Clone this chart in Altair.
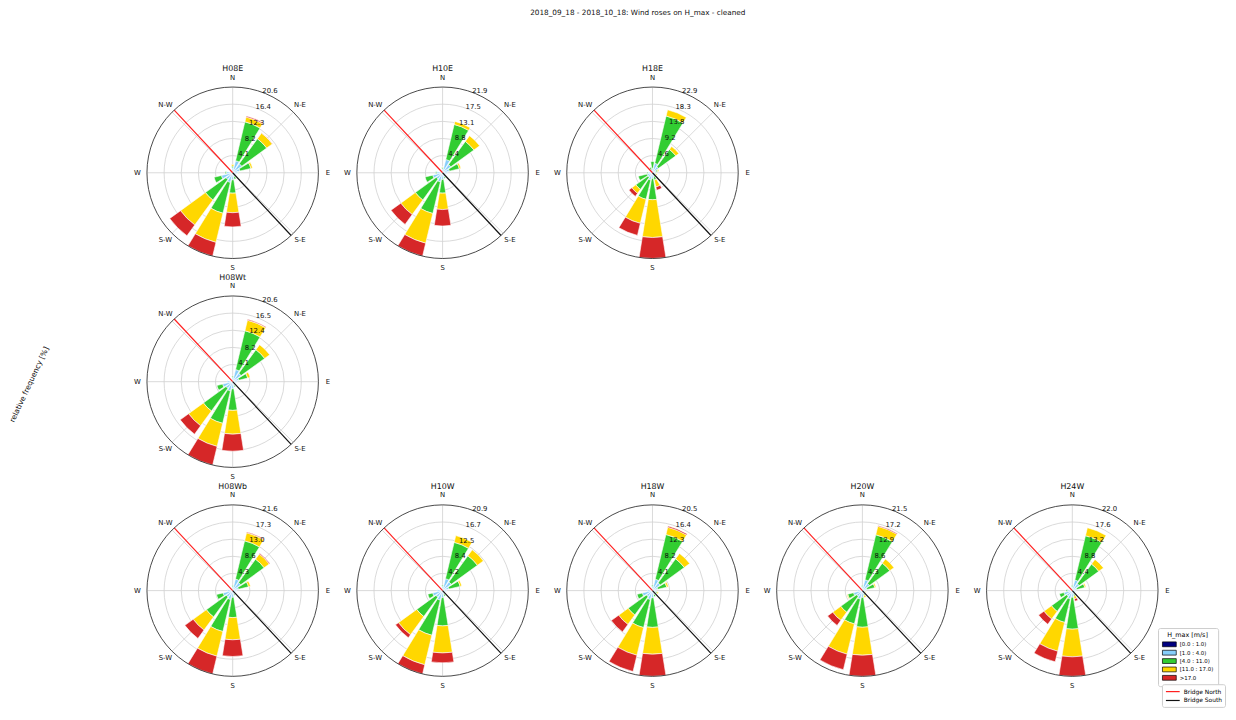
import math
import altair as alt
import pandas as pd

# ---------------- data ----------------
SECTORS = ["N", "NNE", "NE", "ENE", "E", "ESE", "SE", "SSE",
           "S", "SSW", "SW", "WSW", "W", "WNW", "NW", "NNW"]
SECTOR_DEG = [0, 22.5, 45, 67.5, 90, 112.5, 135, 157.5,
              180, 202.5, 225, 247.5, 270, 292.5, 315, 337.5]
BIN_LABELS = ["[0.0 : 1.0)", "[1.0 : 4.0)", "[4.0 : 11.0)", "[11.0 : 17.0)", ">17.0"]
BIN_COLORS = ["#000080", "#87cefa", "#32cd32", "#ffd700", "#d62728"]

COMPASS_LABELS = ["N", "N-E", "E", "S-E", "S", "S-W", "W", "N-W"]
COMPASS_DEG = [0, 45, 90, 135, 180, 225, 270, 315]
RING_FRACTIONS = [0.2, 0.4, 0.6, 0.8]

BRIDGE_NAMES = ["Bridge North", "Bridge South"]
BRIDGE_DEG = [317, 137]
BRIDGE_COLORS = ["#ff2020", "#111111"]

# relative frequency [%] per sector (N ... NNW), bins: navy, lightblue, green, gold, red
H08E = [(0, 1.2, 0.4, 0.4, 0), (0, 3.0, 9.6, 1.2, 0.25), (0, 2.7, 7.4, 1.7, 0.05), (0, 1.8, 2.7, 0.4, 0),
        (0, 1.3, 0.1, 0, 0), (0, 0.8, 0, 0, 0), (0, 0.5, 0, 0, 0), (0, 1.0, 0.6, 0, 0),
        (0, 1.7, 3.2, 4.7, 3.4), (0, 2.4, 7.6, 7.2, 3.4), (0, 2.0, 6.1, 7.4, 3.2), (0, 2.8, 1.8, 0, 0),
        (0, 1.5, 0.3, 0, 0), (0, 0.6, 0, 0, 0), (0, 0.3, 0, 0, 0), (0, 0.6, 0, 0, 0)]
H10E = [(0, 1.0, 0.4, 0.1, 0), (0, 3.5, 9.2, 0.8, 0), (0, 2.6, 7.3, 1.8, 0), (0, 1.8, 2.6, 0.4, 0),
        (0, 1.2, 0, 0, 0), (0, 0.8, 0, 0, 0), (0, 0.5, 0, 0, 0), (0, 1.2, 0.3, 0, 0),
        (0, 1.7, 3.5, 4.2, 4.2), (0, 2.4, 8.3, 7.8, 3.4), (0, 2.0, 6.6, 4.6, 3.1), (0, 2.6, 2.0, 0, 0),
        (0, 1.5, 0.3, 0, 0), (0, 0.6, 0, 0, 0), (0, 0.3, 0, 0, 0), (0, 0.6, 0, 0, 0)]
H18E = [(0, 1.2, 1.8, 0, 0), (0, 2.6, 13.0, 1.7, 0), (0, 2.0, 5.7, 1.0, 0), (0, 1.0, 0.5, 0.3, 0),
        (0, 0.8, 0.2, 0, 0), (0, 0.8, 0.2, 0.3, 0), (0, 0.5, 0, 0, 0), (0, 1.0, 1.0, 1.9, 0.9),
        (0, 1.5, 5.7, 10.1, 5.6), (0, 2.0, 5.3, 6.6, 3.3), (0, 1.5, 4.0, 1.3, 1.0), (0, 1.5, 2.4, 0, 0),
        (0, 1.2, 0.3, 0, 0), (0, 0.6, 0, 0, 0), (0, 0.3, 0, 0, 0), (0, 0.8, 0.7, 0, 0)]
H08Wt = [(0, 1.0, 0.3, 0, 0), (0, 3.0, 9.6, 2.6, 0.2), (0, 2.5, 7.0, 1.5, 0), (0, 1.5, 2.2, 0.6, 0),
         (0, 1.0, 0, 0, 0), (0, 0.7, 0, 0, 0), (0, 0.5, 0, 0, 0), (0, 1.0, 0.3, 0, 0),
         (0, 1.7, 5.2, 5.7, 4.1), (0, 2.3, 8.0, 5.7, 4.6), (0, 2.0, 6.7, 4.4, 2.5), (0, 2.5, 1.4, 0, 0),
         (0, 1.3, 0, 0, 0), (0, 0.6, 0, 0, 0), (0, 0.3, 0, 0, 0), (0, 0.6, 0, 0, 0)]
H08Wb = [(0, 1.0, 0.3, 0, 0), (0, 3.0, 9.9, 2.1, 0.2), (0, 2.5, 7.3, 1.6, 0.2), (0, 1.5, 2.6, 0.5, 0),
         (0, 1.0, 0, 0, 0), (0, 0.7, 0, 0, 0), (0, 0.5, 0, 0, 0), (0, 1.0, 0.3, 0, 0),
         (0, 1.7, 5.1, 5.6, 4.2), (0, 2.3, 8.3, 6.4, 4.6), (0, 2.0, 6.2, 4.1, 2.6), (0, 2.5, 1.7, 0, 0),
         (0, 1.3, 0, 0, 0), (0, 0.6, 0, 0, 0), (0, 0.3, 0, 0, 0), (0, 0.6, 0, 0, 0)]
H10W = [(0, 1.0, 0.3, 0, 0), (0, 3.0, 9.1, 1.7, 0), (0, 2.6, 7.9, 1.8, 0), (0, 1.6, 2.8, 0.4, 0),
        (0, 1.0, 0, 0, 0), (0, 0.7, 0, 0, 0), (0, 0.5, 0, 0, 0), (0, 1.0, 0.4, 0, 0),
        (0, 1.7, 6.9, 6.6, 2.4), (0, 2.4, 8.8, 7.4, 2.3), (0, 2.0, 5.8, 5.5, 0.9), (0, 2.5, 1.2, 0, 0),
        (0, 1.3, 0, 0, 0), (0, 0.6, 0, 0, 0), (0, 0.3, 0, 0, 0), (0, 0.6, 0, 0, 0)]
H18W = [(0, 1.0, 0.3, 0, 0), (0, 2.8, 11.0, 1.8, 0.3), (0, 2.3, 7.1, 1.6, 0), (0, 1.3, 2.2, 0.4, 0),
        (0, 0.8, 0, 0, 0), (0, 0.8, 0.4, 0.3, 0), (0, 0.5, 0, 0, 0), (0, 1.0, 0.5, 0, 0),
        (0, 1.7, 7.1, 6.4, 5.3), (0, 2.2, 6.9, 6.8, 4.0), (0, 1.8, 5.4, 2.8, 2.2), (0, 2.5, 1.3, 0, 0),
        (0, 1.2, 0, 0, 0), (0, 0.6, 0, 0, 0), (0, 0.3, 0, 0, 0), (0, 0.6, 0, 0, 0)]
H20W = [(0, 1.0, 0.3, 0, 0), (0, 2.8, 11.6, 2.2, 0.2), (0, 2.2, 6.3, 1.3, 0), (0, 1.2, 2.0, 0.3, 0),
        (0, 0.8, 0, 0, 0), (0, 0.8, 0, 0.2, 0), (0, 0.5, 0, 0, 0), (0, 0.9, 0.4, 0.5, 0),
        (0, 1.7, 7.5, 7.0, 5.3), (0, 2.2, 6.4, 7.8, 4.0), (0, 1.8, 4.9, 2.5, 1.6), (0, 2.3, 1.5, 0.2, 0),
        (0, 1.2, 0, 0, 0), (0, 0.6, 0, 0, 0), (0, 0.3, 0, 0, 0), (0, 0.6, 0, 0, 0)]
H24W = [(0, 1.0, 0.3, 0, 0), (0, 2.8, 11.7, 2.1, 0), (0, 2.2, 6.2, 1.5, 0), (0, 1.2, 2.1, 0.3, 0),
        (0, 0.8, 0, 0, 0), (0, 0.8, 0, 0, 0), (0, 0.5, 0, 0, 0), (0, 1.0, 0.5, 0.7, 0.6),
        (0, 1.7, 8.2, 7.1, 5.0), (0, 2.2, 6.2, 7.6, 2.8), (0, 1.8, 4.8, 2.4, 1.7), (0, 2.2, 1.2, 0, 0),
        (0, 1.2, 0.4, 0, 0), (0, 0.6, 0, 0, 0), (0, 0.3, 0, 0, 0), (0, 0.6, 0, 0, 0)]

# radial tick labels read from each rose
H08E_TICKS = [4.1, 8.2, 12.3, 16.4, 20.6]
H10E_TICKS = [4.4, 8.8, 13.1, 17.5, 21.9]
H18E_TICKS = [4.6, 9.2, 13.8, 18.3, 22.9]
H08Wt_TICKS = [4.1, 8.2, 12.4, 16.5, 20.6]
H08Wb_TICKS = [4.3, 8.6, 13.0, 17.3, 21.6]
H10W_TICKS = [4.2, 8.4, 12.5, 16.7, 20.9]
H18W_TICKS = [4.1, 8.2, 12.3, 16.4, 20.5]
H20W_TICKS = [4.3, 8.6, 12.9, 17.2, 21.5]
H24W_TICKS = [4.4, 8.8, 13.2, 17.6, 22.0]

# grid of panels (None = empty cell)
PANEL_GRID = ["H08E", "H10E", "H18E", None, None,
              "H08Wt", None, None, None, None,
              "H08Wb", "H10W", "H18W", "H20W", "H24W"]
PANEL_TABLES = {"H08E": H08E, "H10E": H10E, "H18E": H18E, "H08Wt": H08Wt, "H08Wb": H08Wb,
                "H10W": H10W, "H18W": H18W, "H20W": H20W, "H24W": H24W}
PANEL_TICKS = {"H08E": H08E_TICKS, "H10E": H10E_TICKS, "H18E": H18E_TICKS, "H08Wt": H08Wt_TICKS,
               "H08Wb": H08Wb_TICKS, "H10W": H10W_TICKS, "H18W": H18W_TICKS, "H20W": H20W_TICKS,
               "H24W": H24W_TICKS}

TITLE = "2018_09_18 - 2018_10_18: Wind roses on H_max - cleaned"
YLABEL = "relative frequency [%]"

# ---------------- build tables ----------------
rows = []
for pname, table in PANEL_TABLES.items():
    for s, (sec, deg) in enumerate(zip(SECTORS, SECTOR_DEG)):
        for b, lab in enumerate(BIN_LABELS):
            rows.append({"panel": pname, "sector": sec, "angle": deg, "bin": lab,
                         "bin_order": b, "freq": table[s][b]})
bars_df = pd.DataFrame(rows)
rings_df = pd.DataFrame({"r": RING_FRACTIONS})
outer_df = pd.DataFrame({"r": [1.0]})
spokes_df = pd.DataFrame({"a": COMPASS_DEG})
compass_df = pd.DataFrame({"label": COMPASS_LABELS, "a": COMPASS_DEG})
bridge_df = pd.DataFrame({"name": BRIDGE_NAMES, "a": BRIDGE_DEG})

# ---------------- geometry ----------------
W = 200
R = 87
D = W / 2 / R
FONT = "DejaVu Sans"

XS = alt.Scale(domain=[-D, D], nice=False, zero=False)
YS = alt.Scale(domain=[-D, D], nice=False, zero=False)
TS = alt.Scale(domain=[0, 360], range=[0, 2 * math.pi])
RS = alt.Scale(type="linear", domain=[0, 1], range=[0, R], zero=True)

color_legend = alt.Legend(
    title="H_max [m/s]", orient="none", legendX=1039, legendY=562,
    titleFontSize=6.5, titleFontWeight="normal", titleFont=FONT, titleAnchor="middle",
    titlePadding=2, labelFontSize=5.5, labelFont=FONT, labelOffset=10,
    symbolType="M-1,-0.7H3V0.7H-1Z", symbolSize=49, symbolStrokeColor="black",
    symbolStrokeWidth=0.7, strokeColor="#cccccc", fillColor="white", padding=4,
    cornerRadius=2, rowPadding=0.5,
)
bridge_legend = alt.Legend(
    title=None, orient="none", legendX=1043, legendY=619,
    labelFontSize=6, labelFont=FONT, labelOffset=10, symbolType="M-1,0H3", symbolSize=49,
    symbolStrokeWidth=1.2, strokeColor="#cccccc", fillColor="white", padding=3,
    cornerRadius=2, rowPadding=1,
)


def rose(pname, extra=None):
    ticks = PANEL_TICKS[pname]
    rmax = ticks[-1]

    rings = alt.Chart(rings_df).mark_arc(
        filled=False, stroke="#d0d0d0", strokeWidth=0.8, theta=0, theta2=2 * math.pi
    ).encode(radius=alt.Radius("r:Q", scale=RS, stack=None))

    spokes = alt.Chart(spokes_df).transform_calculate(
        x0="0", y0="0",
        x1="sin(datum.a * PI / 180)", y1="cos(datum.a * PI / 180)",
    ).mark_rule(stroke="#d0d0d0", strokeWidth=0.8).encode(
        x=alt.X("x0:Q", scale=XS, axis=None), y=alt.Y("y0:Q", scale=YS, axis=None),
        x2="x1:Q", y2="y1:Q",
    )

    bars = alt.Chart(bars_df).transform_filter(
        alt.datum.panel == pname
    ).transform_filter(
        alt.datum.freq > 0
    ).transform_window(
        cum="sum(freq)", frame=[None, 0], groupby=["sector"], sort=[alt.SortField("bin_order")]
    ).transform_calculate(
        r1=f"datum.cum / {rmax}",
        r0=f"(datum.cum - datum.freq) / {rmax}",
        a0="datum.angle - 9", a1="datum.angle + 9",
    ).mark_arc(stroke="white", strokeWidth=0.6).encode(
        theta=alt.Theta("a0:Q", scale=TS, stack=None),
        theta2="a1:Q",
        radius=alt.Radius("r1:Q", scale=RS, stack=None),
        radius2="r0:Q",
        color=alt.Color("bin:N", scale=alt.Scale(domain=BIN_LABELS, range=BIN_COLORS),
                        legend=color_legend),
    )

    bridges = alt.Chart(bridge_df).transform_calculate(
        x0="0", y0="0",
        x1="sin(datum.a * PI / 180)", y1="cos(datum.a * PI / 180)",
    ).mark_rule(strokeWidth=1.2).encode(
        x=alt.X("x0:Q", scale=XS, axis=None), y=alt.Y("y0:Q", scale=YS, axis=None),
        x2="x1:Q", y2="y1:Q",
        stroke=alt.Stroke("name:N", scale=alt.Scale(domain=BRIDGE_NAMES, range=BRIDGE_COLORS),
                          legend=bridge_legend),
    )

    outer = alt.Chart(outer_df).mark_arc(
        filled=False, stroke="#333333", strokeWidth=0.9, theta=0, theta2=2 * math.pi
    ).encode(radius=alt.Radius("r:Q", scale=RS, stack=None))

    compass = alt.Chart(compass_df).transform_calculate(
        x="1.11 * sin(datum.a * PI / 180)", y="1.11 * cos(datum.a * PI / 180)",
    ).mark_text(fontSize=7, font=FONT, color="#111111").encode(
        x=alt.X("x:Q", scale=XS, axis=None), y=alt.Y("y:Q", scale=YS, axis=None),
        text="label:N",
    )

    tick_df = pd.DataFrame({"v": ticks})
    tick_text = alt.Chart(tick_df).transform_calculate(
        x=f"datum.v / {rmax} * sin(22.5 * PI / 180)",
        y=f"datum.v / {rmax} * cos(22.5 * PI / 180)",
    ).mark_text(fontSize=7, font=FONT, color="#111111", dx=4.5, dy=-2.6).encode(
        x=alt.X("x:Q", scale=XS, axis=None), y=alt.Y("y:Q", scale=YS, axis=None),
        text=alt.Text("v:Q", format=".1f"),
    )

    title_df = pd.DataFrame({"name": [pname], "x": [0.0], "y": [1.21]})
    title = alt.Chart(title_df).mark_text(fontSize=8, font=FONT, color="#111111").encode(
        x=alt.X("x:Q", scale=XS, axis=None), y=alt.Y("y:Q", scale=YS, axis=None),
        text="name:N",
    )

    layers = [rings, spokes, bars, bridges, outer, compass, tick_text, title]
    if extra is not None:
        layers.append(extra)
    return alt.layer(*layers).properties(width=W, height=W)


def empty_cell():
    return alt.Chart(pd.DataFrame({"t": [""]})).mark_text().encode(text="t:N").properties(
        width=W, height=W)


ylabel = alt.Chart(pd.DataFrame({"t": [YLABEL]})).mark_text(
    fontSize=7.5, font=FONT, angle=295, color="#111111"
).encode(text="t:N", x=alt.value(-106), y=alt.value(103))

cells = []
for n in PANEL_GRID:
    if n is None:
        cells.append(empty_cell())
    else:
        cells.append(rose(n, ylabel if n == "H08Wt" else None))

chart = alt.concat(
    *cells, columns=5, spacing={"row": 12, "column": 13}, bounds="flush"
).resolve_scale(
    color="shared", stroke="shared"
).properties(
    title=alt.TitleParams(TITLE, fontSize=7.4, fontWeight="normal", font=FONT, color="#111111",
                          anchor="middle", offset=49, dx=21),
    padding={"left": 0, "top": -4, "right": 2, "bottom": 0},
).configure_view(stroke=None)

chart.save("out.html", embed_options={"renderer": "svg", "actions": False})
